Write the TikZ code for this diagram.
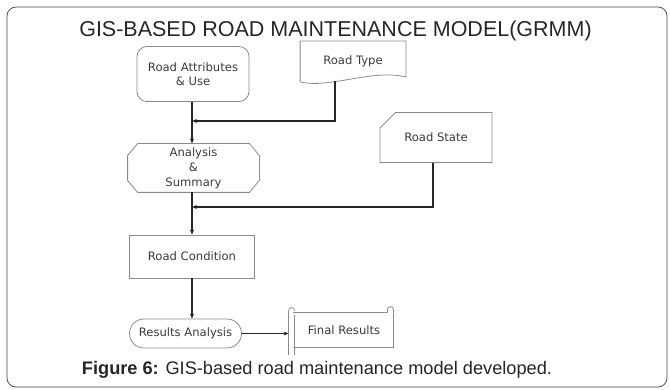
\documentclass[tikz,border=0pt]{standalone}
\usepackage{fontspec}
\setmainfont{Liberation Sans}
\newfontfamily\boxfont{DejaVu Sans}
\usetikzlibrary{arrows.meta,shapes.misc}

\definecolor{edgegray}{HTML}{8A8A8A}
\definecolor{textgray}{HTML}{3A3A3A}

\tikzset{
  box/.style={draw=edgegray, line width=0.8pt, align=center, text=textgray,
    font=\boxfont\fontsize{11.6}{14.5}\selectfont, inner sep=1pt},
  outline/.style={draw=edgegray, line width=0.8pt},
  flow/.style={line width=1.3pt, draw=black!85, -{Stealth[length=5pt,width=4pt]}}
}

\begin{document}
\begin{tikzpicture}[x=1pt, y=-1pt]
\useasboundingbox (0,0) rectangle (670,390);

% Frame and title
\draw[rounded corners=9pt, draw=black!75, line width=0.7pt] (7,7) rectangle (667,387);
\node[text=black!85, font=\fontsize{21.5}{25}\selectfont] (ttl) at (335.5,31) {GIS-BASED ROAD MAINTENANCE MODEL(GRMM)};

% Inputs
\node[box, rounded corners=10pt, minimum width=112pt, minimum height=55pt] (attr) at (193,74) {Road Attributes\\\& Use};
\node[box, draw=none, minimum width=105pt, minimum height=39pt] (rtype) at (353,61) {Road Type};
\draw[outline] ([yshift=-1pt]rtype.south west) -- (rtype.north west) -- (rtype.north east) -- ([yshift=4pt]rtype.south east)
  .. controls ([xshift=-35pt,yshift=12pt]rtype.south east) and ([xshift=30pt,yshift=-8pt]rtype.south west) .. ([yshift=-1pt]rtype.south west);
\node[box, chamfered rectangle, chamfered rectangle corners=north west, chamfered rectangle xsep=22pt,
  chamfered rectangle ysep=10pt, minimum width=112pt, minimum height=50pt] (rstate) at (436,137.5) {Road State};

% Process
\node[box, draw=none, minimum width=131pt, minimum height=48pt, inner sep=0pt,
  font=\boxfont\fontsize{11.6}{15}\selectfont] (anl) at (193.5,168) {Analysis\\\&\\Summary};
\draw[outline] ([xshift=10pt]anl.north west) -- ([xshift=-10pt]anl.north east) -- ([yshift=-12pt]anl.north east)
  -- ([yshift=12pt]anl.south east) -- ([xshift=-10pt]anl.south east) -- ([xshift=10pt]anl.south west)
  -- ([yshift=12pt]anl.south west) -- ([yshift=-12pt]anl.north west) -- cycle;
\node[box, rectangle, minimum width=125pt, minimum height=43pt] (rcond) at (192,256.5) {Road Condition};
\node[box, rounded corners=14.5pt, minimum width=112pt, minimum height=29pt] (res) at (185.5,333.5) {Results Analysis};
\node[box, draw=none, minimum width=98pt, minimum height=34pt] (fin) at (344,330) {Final Results};
\draw[outline] ([xshift=-2pt]fin.north west) -- ([xshift=-6pt]fin.north east) (fin.north east) -- (fin.south east) -- (fin.south west) -- ([yshift=4pt]fin.south west);
\draw[outline] ([xshift=-6pt,yshift=2pt]fin.north west) -- ([xshift=-6pt,yshift=-8pt]fin.south west);
\draw[outline] ([yshift=-2pt]fin.north west) -- ([yshift=-8pt]fin.south west);
\draw[outline] ([xshift=-6pt,yshift=2pt]fin.north west) arc (180:0:3pt);
\draw[outline] ([xshift=-6pt]fin.north east) -- ([xshift=-6pt,yshift=3pt]fin.north east) arc (180:0:3pt) -- (fin.north east);

% Junction points on the main line
\coordinate (j1) at (192,121);
\coordinate (j2) at (192,207);

% Connectors
\draw[flow] (attr.south -| j1) -- (anl.north -| j1);
\draw[flow] ([xshift=-18pt]rtype.south) |- (j1);
\draw[flow] (anl.south -| j1) -- (rcond.north -| j1);
\draw[flow] ([xshift=-3pt]rstate.south) |- (j2);
\draw[flow] (rcond.south -| j1) -- (res.north -| j1);
\draw[flow] (res.east) -- ([xshift=-6pt]fin.west |- res.east);

% Caption
\node[text=black!85, font=\fontsize{18.2}{22}\selectfont] (cap) at (317,370) {\textbf{Figure 6:} GIS-based road maintenance model developed.};
\end{tikzpicture}
\end{document}
